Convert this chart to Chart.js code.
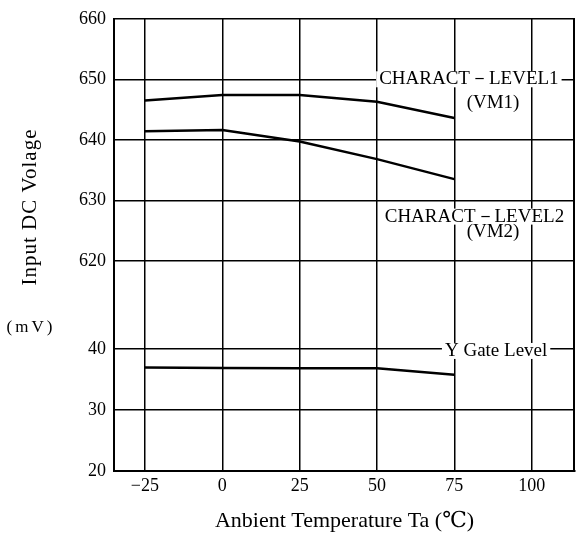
<!DOCTYPE html>
<html>
<head>
<meta charset="utf-8">
<script src="https://cdn.jsdelivr.net/npm/chart.js@4.4.1/dist/chart.umd.min.js"></script>
<style>
  html, body { margin: 0; padding: 0; background: #fff; }
</style>
</head>
<body>
<canvas id="tempchart" width="577" height="536"></canvas>
<script>
const temps = [-25, 0, 25, 50, 75];
const vm1 = [646.5, 647.4, 647.4, 646.3, 643.6];
const vm2 = [641.4, 641.6, 639.7, 636.8, 633.5];
const gate = [37.0, 36.9, 36.85, 36.85, 35.8];

const xTicks = [-25, 0, 25, 50, 75, 100];
const yTopTicks = [620, 630, 640, 650, 660];
const yBotTicks = [20, 30, 40];

// curve names, placed at data coordinates
const notes = [
  { text: "CHARACT－LEVEL1", x: 79.7, y: 650, axis: "yTop", box: true },
  { text: "(VM1)", x: 87.5, y: 646.0, axis: "yTop", box: false },
  { text: "CHARACT－LEVEL2", x: 81.5, y: 627.3, axis: "yTop", box: true },
  { text: "(VM2)", x: 87.5, y: 624.8, axis: "yTop", box: false },
  { text: "Y Gate Level", x: 88.5, y: 39.7, axis: "yBot", box: true },
];

const serif = "'Liberation Serif', 'DejaVu Serif', serif";
Chart.defaults.font.family = serif;
Chart.defaults.color = "#000";

const points = (ys) => temps.map((t, i) => ({ x: t, y: ys[i] }));

const lineStyle = {
  borderColor: "#000",
  borderWidth: 2.5,
  pointRadius: 0,
  tension: 0,
  fill: false,
};

const notesPlugin = {
  id: "notes",
  afterDatasetsDraw(chart) {
    const { ctx, scales, chartArea } = chart;
    ctx.save();
    ctx.font = "19px " + serif;
    ctx.textAlign = "center";
    ctx.textBaseline = "middle";
    const placed = notes.map((n) => ({
      ...n,
      px: scales.x.getPixelForValue(n.x),
      py: scales[n.axis].getPixelForValue(n.y),
    }));
    // white patches first so the grid breaks behind the words
    placed.filter((n) => n.box).forEach((n) => {
      const w = ctx.measureText(n.text).width + 6;
      ctx.fillStyle = "#fff";
      ctx.fillRect(n.px - w / 2, n.py - 8, w, 16);
    });
    ctx.fillStyle = "#000";
    placed.forEach((n) => ctx.fillText(n.text, n.px, n.py));

    // right frame edge
    ctx.strokeStyle = "#000";
    ctx.lineWidth = 2;
    ctx.beginPath();
    ctx.moveTo(chartArea.right - 1, chartArea.top);
    ctx.lineTo(chartArea.right - 1, chartArea.bottom);
    ctx.stroke();

    // y title and unit
    ctx.font = "21px " + serif;
    ctx.letterSpacing = "1px";
    ctx.translate(30, 207);
    ctx.rotate(-Math.PI / 2);
    ctx.fillText("Input DC Volage", 0, 0);
    ctx.setTransform(1, 0, 0, 1, 0, 0);
    ctx.font = "17px " + serif;
    ctx.letterSpacing = "3px";
    ctx.fillText("(mV)", 31, 328);
    ctx.restore();
  },
};

const gridOpts = { color: "#000", lineWidth: 1.5, drawTicks: false };
const borderOpts = { color: "#000", width: 2 };

new Chart(document.getElementById("tempchart"), {
  type: "line",
  data: {
    datasets: [
      { label: "VM1", data: points(vm1), yAxisID: "yTop", ...lineStyle },
      { label: "VM2", data: points(vm2), yAxisID: "yTop", ...lineStyle },
      { label: "Y Gate", data: points(gate), yAxisID: "yBot", ...lineStyle },
    ],
  },
  options: {
    responsive: false,
    animation: false,
    layout: { padding: { left: 0, right: 2, top: 15, bottom: 0 } },
    plugins: {
      legend: { display: false },
      tooltip: { enabled: false },
    },
    scales: {
      x: {
        type: "linear",
        min: -35,
        max: 114,
        afterBuildTicks: (s) => { s.ticks = xTicks.map((v) => ({ value: v })); },
        afterFit: (s) => { s.height = 65; },
        ticks: {
          font: { size: 18 },
          padding: 4,
          callback: (v) => (v < 0 ? "−" + Math.abs(v) : v),
        },
        grid: gridOpts,
        border: borderOpts,
        title: {
          display: true,
          text: "Anbient Temperature Ta (℃)",
          font: { size: 22 },
          padding: { top: 0, bottom: 2 },
        },
      },
      // stacked axes are laid out bottom-first in this order
      yBot: {
        type: "linear",
        position: "left",
        stack: "volts",
        stackWeight: 212,
        min: 20,
        max: 54.5,
        afterBuildTicks: (s) => { s.ticks = yBotTicks.map((v) => ({ value: v })); },
        afterFit: (s) => { s.width = 114; },
        ticks: { font: { size: 18 }, padding: 8 },
        grid: gridOpts,
        border: borderOpts,
      },
      yTop: {
        type: "linear",
        position: "left",
        stack: "volts",
        stackWeight: 244,
        min: 620,
        max: 660,
        afterBuildTicks: (s) => { s.ticks = yTopTicks.map((v) => ({ value: v })); },
        afterFit: (s) => { s.width = 114; },
        ticks: { font: { size: 18 }, padding: 8 },
        grid: gridOpts,
        border: borderOpts,
      },
    },
  },
  plugins: [notesPlugin],
});
</script>
</body>
</html>
